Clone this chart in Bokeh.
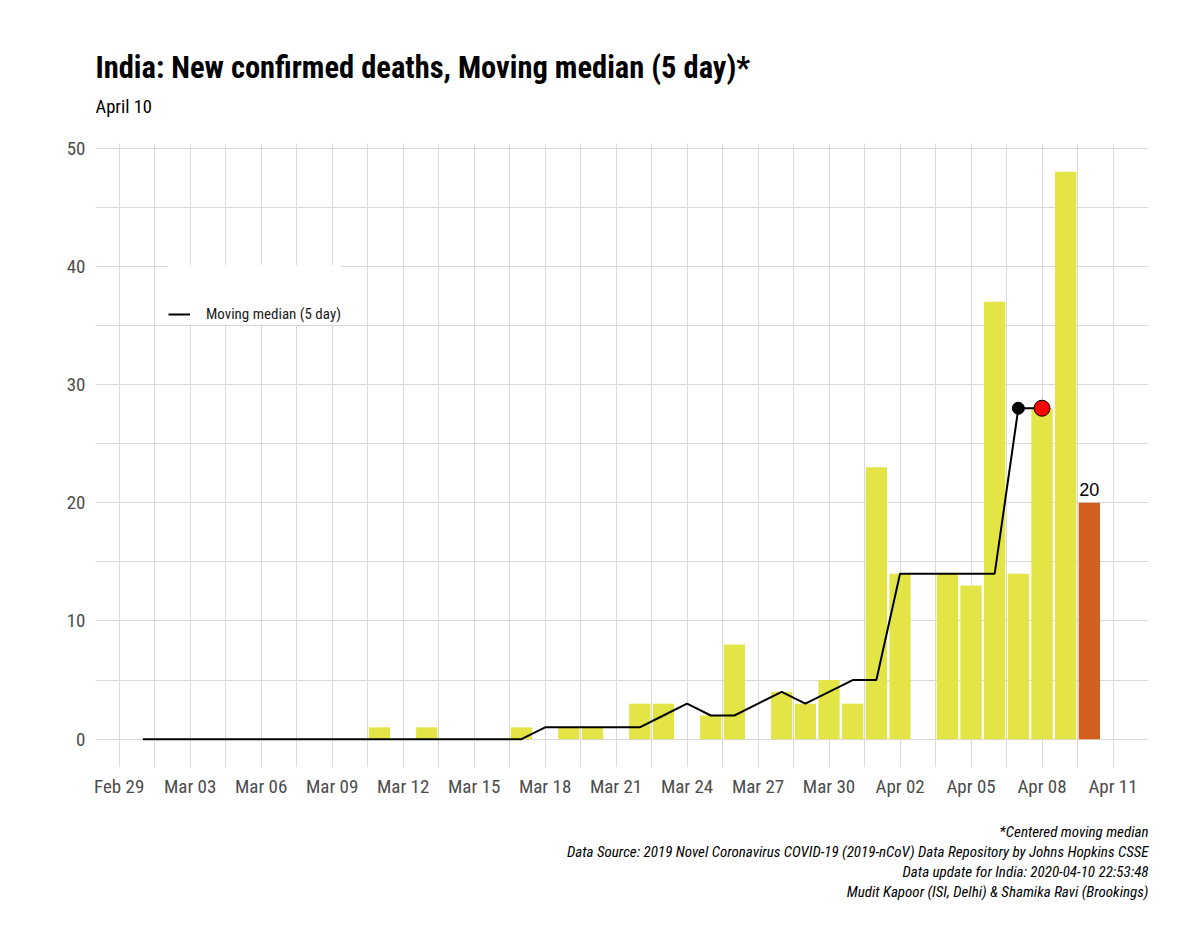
import pandas as pd
from bokeh.plotting import figure
from bokeh.models import (Range1d, FixedTicker, Legend, LegendItem, Title,
                          ColumnDataSource)
from bokeh.core.properties import value
from bokeh.embed import file_html
from bokeh.resources import INLINE

# ---------------- data ----------------
origin = "2020-02-29"
dates = [d.strftime("%Y-%m-%d") for d in pd.date_range("2020-03-01", "2020-04-10")]
deaths = [0, 0, 0, 0, 0, 0, 0, 0, 0, 0,          # Mar 01-10
          1, 0, 1, 0, 0, 0, 1, 0, 1, 1,          # Mar 11-20
          0, 3, 3, 0, 2, 8, 0, 4, 3, 5, 3,       # Mar 21-31
          23, 14, 0, 14, 13, 37, 14, 28, 48, 20]  # Apr 01-10
median_dates = dates[:-2]  # Mar 01 - Apr 08
median5 = [0, 0, 0, 0, 0, 0, 0, 0, 0, 0,
           0, 0, 0, 0, 0, 0, 0, 1, 1, 1,
           1, 1, 2, 3, 2, 2, 3, 4, 3, 4, 5,
           5, 14, 14, 14, 14, 14, 28, 28]
tick_labels = ["Feb 29", "Mar 03", "Mar 06", "Mar 09", "Mar 12", "Mar 15",
               "Mar 18", "Mar 21", "Mar 24", "Mar 27", "Mar 30", "Apr 02",
               "Apr 05", "Apr 08", "Apr 11"]
y_ticks = [0, 10, 20, 30, 40, 50]

title_text = "India: New confirmed deaths, Moving median (5 day)*"
subtitle_text = "April 10"
caption_lines = ["*Centered moving median",
                 "Data Source: 2019 Novel Coronavirus COVID-19 (2019-nCoV) Data Repository by Johns Hopkins CSSE",
                 "Data update for India: 2020-04-10 22:53:48",
                 "Mudit Kapoor (ISI, Delhi) & Shamika Ravi (Brookings)"]

# ---------------- helpers ----------------
o = pd.Timestamp(origin)
def day(s):
    return (pd.Timestamp(s) - o).days

x_bar = [day(d) for d in dates]
x_med = [day(d) for d in median_dates]
x_ticks = [day(o + pd.Timedelta(days=3 * i)) for i in range(len(tick_labels))]
x_minor = [t + 1.5 for t in x_ticks] + [x_ticks[0] - 1.5]

YELLOW = "#E3E547"
ORANGE = "#D2601F"
colors = [YELLOW] * (len(deaths) - 1) + [ORANGE]

NARROW = "'Liberation Sans Narrow', 'Roboto Condensed', 'Arial Narrow', 'DejaVu Sans Condensed', sans-serif"
GRID = "#D9D9D9"

p = figure(width=1184, height=929, output_backend="svg", toolbar_location=None,
           x_range=Range1d(-1.0, 43.5), y_range=Range1d(-2.4, 50.4),
           min_border_left=95, min_border_right=36, min_border_top=143,
           min_border_bottom=162, background_fill_color="white",
           border_fill_color="white", title=title_text)
p.outline_line_color = None

# main title (outermost); spacer and subtitle stacked above the frame
p.title.align = "left"
p.title.text_font = NARROW
p.title.text_font_size = "30.5px"
p.title.text_font_style = "bold"
p.title.text_color = "black"
p.title.standoff = 14
p.add_layout(Title(text=" ", text_font_size="2px", standoff=20), "above")
p.add_layout(Title(text=subtitle_text, align="left", text_font=NARROW,
                   text_font_size="18.5px", text_font_style="normal",
                   text_color="black", standoff=4), "above")

src = ColumnDataSource(dict(x=x_bar, top=deaths, color=colors))
p.vbar(x="x", top="top", bottom=0, width=0.9, fill_color="color",
       line_color=None, source=src)

line_r = p.line(x_med, median5, line_color="black", line_width=2)
p.scatter([x_med[-2]], [median5[-2]], size=12, fill_color="black", line_color="black")
p.scatter([x_med[-1]], [median5[-1]], size=16, fill_color="#FF0000", line_color="black", line_width=1)

p.text(x=[x_bar[-1]], y=[deaths[-1]], text=[str(deaths[-1])], text_align="center",
       text_baseline="alphabetic", y_offset=-13, text_font=value("Liberation Sans"),
       text_font_size="18px", text_color="black")

# axes
for ax in (p.xaxis, p.yaxis):
    ax.axis_line_color = None
    ax.major_tick_line_color = None
    ax.minor_tick_line_color = None
    ax.major_tick_out = 0
    ax.major_tick_in = 0
    ax.major_label_text_font = NARROW
    ax.major_label_text_font_size = "19px"
    ax.major_label_text_color = "#4D4D4D"
p.xaxis.ticker = FixedTicker(ticks=x_ticks, minor_ticks=x_minor)
p.xaxis.major_label_overrides = {t: l for t, l in zip(x_ticks, tick_labels)}
p.xaxis.major_label_standoff = 3
p.yaxis.ticker = FixedTicker(ticks=y_ticks, minor_ticks=[t + 5 for t in y_ticks])
p.yaxis.major_label_standoff = 6

for g in (p.xgrid, p.ygrid):
    g.grid_line_color = GRID
    g.grid_line_width = 1
    g.minor_grid_line_color = GRID
    g.minor_grid_line_width = 1
p.xgrid.level = "underlay"
p.ygrid.level = "underlay"

# legend
legend = Legend(items=[LegendItem(label="Moving median (5 day)", renderers=[line_r])],
                location=(73, 443), title=" ", title_text_font_size="14px",
                title_standoff=23, padding=14, margin=0, spacing=0,
                glyph_width=22, glyph_height=20, label_standoff=16,
                label_text_font=NARROW, label_text_font_size="15px",
                label_text_color="#1A1A1A", border_line_color=None,
                background_fill_color="white", background_fill_alpha=1.0)
p.add_layout(legend, "center")

# spacer, then caption lines below the x axis, right aligned
p.add_layout(Title(text=" ", text_font_size="2px", standoff=16), "below")
for line in caption_lines:
    p.add_layout(Title(text=line, align="right", text_font=NARROW,
                       text_font_size="15px", text_font_style="italic",
                       text_color="black", standoff=0), "below")

open("out.html", "w").write(file_html(p, INLINE))
